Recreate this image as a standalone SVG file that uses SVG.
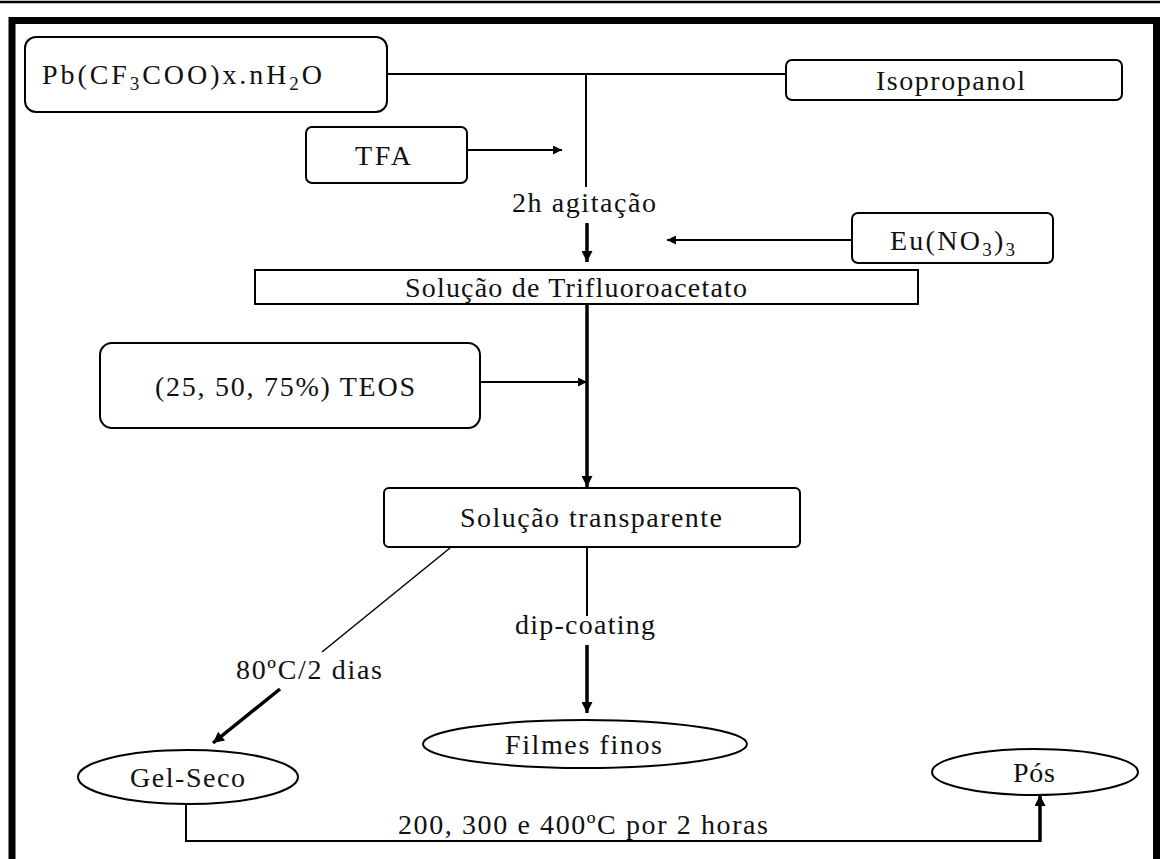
<svg xmlns="http://www.w3.org/2000/svg" width="1160" height="859" viewBox="0 0 1160 859">
<defs>
<style>
.box{fill:#fff;stroke:#000;stroke-width:2}
.thin{fill:none;stroke:#000;stroke-width:2}
.thick{fill:none;stroke:#000;stroke-width:3.5}
.t{font-family:"Liberation Serif","Times New Roman",serif;font-size:28px;fill:#111}
.sub{font-size:19px}
</style>
<marker id="ah" viewBox="0 0 10 10" refX="10" refY="5" markerWidth="11" markerHeight="9" markerUnits="userSpaceOnUse" orient="auto"><path d="M0,0 L10,5 L0,10 z" fill="#000"/></marker>
<marker id="ahb" viewBox="0 0 10 10" refX="10" refY="5" markerWidth="13" markerHeight="11" markerUnits="userSpaceOnUse" orient="auto"><path d="M0,0 L10,5 L0,10 z" fill="#000"/></marker>
</defs>
<rect x="0" y="0" width="1160" height="859" fill="#fff"/>
<line x1="0" y1="2" x2="1160" y2="2" stroke="#000" stroke-width="2.5"/>
<path d="M12,870 V20.5 H1156.5 V870" fill="none" stroke="#000" stroke-width="7"/>

<g id="connectors">
<path class="thin" d="M387,74 H786"/>
<path class="thin" d="M586,74 V187"/>
<path class="thin" d="M467,150 H562" marker-end="url(#ah)"/>
<path class="thick" d="M587,223 V262" marker-end="url(#ahb)"/>
<path class="thin" d="M852,240 H667" marker-end="url(#ah)"/>
<path class="thick" d="M587,304 V487" marker-end="url(#ahb)"/>
<path class="thin" d="M480,382 H587" marker-end="url(#ah)"/>
<path class="thin" d="M587,547 V616"/>
<path class="thick" d="M587,645 V713" marker-end="url(#ahb)"/>
<path fill="none" stroke="#000" stroke-width="1.5" d="M450,548 L322,652"/>
<path class="thick" stroke-width="3" d="M280,689 L213,743" marker-end="url(#ahb)"/>
<path class="thin" d="M186,803 V841 H1040"/>
<path class="thick" d="M1040,842 V795" marker-end="url(#ahb)"/>
</g>

<g id="n-pb">
<rect class="box" x="25" y="37" width="362" height="75" rx="11"/>
<text class="t" x="42" y="84" textLength="280" lengthAdjust="spacing">Pb(CF<tspan class="sub" dy="6">3</tspan><tspan dy="-6">COO)x.nH</tspan><tspan class="sub" dy="6">2</tspan><tspan dy="-6">O</tspan></text>
</g>
<g id="n-iso">
<rect class="box" x="786" y="60" width="336" height="40" rx="6"/>
<text class="t" x="876" y="90" textLength="149" lengthAdjust="spacing">Isopropanol</text>
</g>
<g id="n-tfa">
<rect class="box" x="306" y="127" width="161" height="56" rx="6"/>
<text class="t" x="355" y="165" textLength="56" lengthAdjust="spacing">TFA</text>
</g>
<g id="l-agit">
<text class="t" x="512" y="212" textLength="144" lengthAdjust="spacing">2h agitação</text>
</g>
<g id="n-eu">
<rect class="box" x="852" y="213" width="201" height="50" rx="6"/>
<text class="t" x="890" y="250" textLength="125" lengthAdjust="spacing">Eu(NO<tspan class="sub" dy="6">3</tspan><tspan dy="-6">)</tspan><tspan class="sub" dy="6">3</tspan></text>
</g>
<g id="n-trif">
<rect class="box" x="255" y="270" width="663" height="34"/>
<text class="t" x="405" y="297" textLength="342" lengthAdjust="spacing">Solução de Trifluoroacetato</text>
</g>
<g id="n-teos">
<rect class="box" x="100" y="343" width="380" height="85" rx="12"/>
<text class="t" x="155" y="396" textLength="260" lengthAdjust="spacing">(25, 50, 75%) TEOS</text>
</g>
<g id="n-transp">
<rect class="box" x="384" y="488" width="416" height="59" rx="5"/>
<text class="t" x="460" y="527" textLength="262" lengthAdjust="spacing">Solução transparente</text>
</g>
<g id="l-dip">
<text class="t" x="515" y="634" textLength="140" lengthAdjust="spacing">dip-coating</text>
</g>
<g id="l-80">
<text class="t" x="236" y="679" textLength="146" lengthAdjust="spacing">80ºC/2 dias</text>
</g>
<g id="n-filmes">
<ellipse class="box" cx="585" cy="744" rx="162" ry="24"/>
<text class="t" x="505" y="754" textLength="157" lengthAdjust="spacing">Filmes finos</text>
</g>
<g id="n-gel">
<ellipse class="box" cx="188" cy="777" rx="110" ry="27"/>
<text class="t" x="130" y="787" textLength="115" lengthAdjust="spacing">Gel-Seco</text>
</g>
<g id="n-pos">
<ellipse class="box" cx="1035" cy="772" rx="103" ry="23"/>
<text class="t" x="1013" y="782" textLength="42" lengthAdjust="spacing">Pós</text>
</g>
<g id="l-heat">
<text class="t" x="398" y="834" textLength="370" lengthAdjust="spacing">200, 300 e 400ºC por 2 horas</text>
</g>
</svg>
